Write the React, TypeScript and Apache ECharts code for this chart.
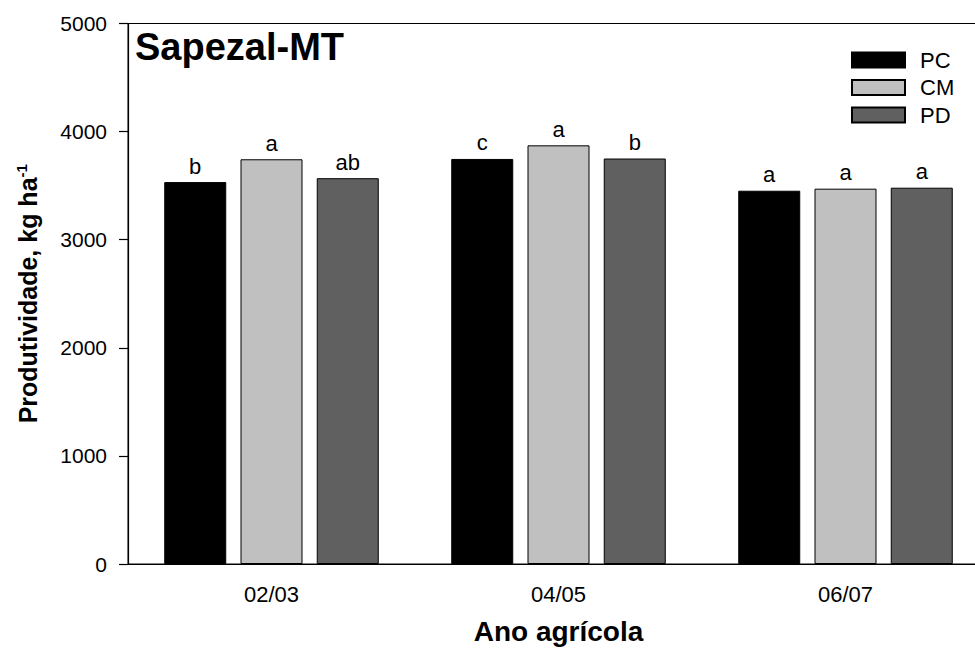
import React, { useEffect, useRef } from "react";
import * as echarts from "echarts";

const categories = ["02/03", "04/05", "06/07"];
const seriesNames = ["PC", "CM", "PD"];
const pcValues = [3533, 3747, 3453];
const cmValues = [3744, 3873, 3472];
const pdValues = [3569, 3751, 3481];
const pcLetters = ["b", "c", "a"];
const cmLetters = ["a", "a", "a"];
const pdLetters = ["ab", "b", "a"];
const yTicks = [0, 1000, 2000, 3000, 4000, 5000];

const FONT = "'Liberation Sans', Arial, Helvetica, sans-serif";
const colors = ["#000000", "#c0c0c0", "#606060"];

export default function App() {
  const ref = useRef<HTMLDivElement>(null);
  useEffect(() => {
    if (!ref.current) return;
    const chart = echarts.init(ref.current, undefined, { renderer: "svg" });
    const values = [pcValues, cmValues, pdValues];
    const letters = [pcLetters, cmLetters, pdLetters];
    chart.setOption({
      animation: false,
      backgroundColor: "#ffffff",
      title: {
        text: "Sapezal-MT",
        left: 135,
        top: 28,
        padding: 0,
        textStyle: { fontFamily: FONT, fontSize: 38, fontWeight: "bold", color: "#000" },
      },
      legend: {
        orient: "vertical",
        left: 851,
        top: 49,
        padding: 0,
        itemWidth: 53,
        itemHeight: 15,
        itemGap: 5.5,
        icon: "rect",
        textStyle: { fontFamily: FONT, fontSize: 22, color: "#000", padding: [0, 0, 0, 10] },
        data: seriesNames,
      },
      grid: {
        left: 128,
        top: 23.5,
        width: 861,
        height: 543.2,
        show: true,
        borderColor: "#000",
        borderWidth: 1,
        backgroundColor: "transparent",
        containLabel: false,
      },
      xAxis: {
        type: "category",
        data: categories,
        boundaryGap: true,
        axisLine: { lineStyle: { color: "#000", width: 1.2 } },
        axisTick: { alignWithLabel: true, length: 7, lineStyle: { color: "#000", width: 1.2 } },
        axisLabel: { fontFamily: FONT, fontSize: 22, color: "#000", margin: 19 },
        name: "Ano agrícola",
        nameLocation: "middle",
        nameGap: 53,
        nameTextStyle: { fontFamily: FONT, fontSize: 28, fontWeight: "bold", color: "#000" },
        splitLine: { show: false },
      },
      yAxis: {
        type: "value",
        min: yTicks[0],
        max: yTicks[yTicks.length - 1],
        interval: 1000,
        axisLine: { show: true, lineStyle: { color: "#000", width: 1.2 } },
        axisTick: { show: true, length: 9, lineStyle: { color: "#000", width: 1.2 } },
        axisLabel: {
          fontFamily: FONT,
          fontSize: 21,
          color: "#000",
          margin: 21,
          formatter: (v: number) => String(v),
        },
        splitLine: { show: false },
        name: "Produtividade, kg ha{sup|-1}",
        nameLocation: "middle",
        nameGap: 87,
        nameTextStyle: {
          fontFamily: FONT,
          fontSize: 25,
          fontWeight: "bold",
          color: "#000",
          rich: {
            sup: { fontFamily: FONT, fontSize: 15, fontWeight: "bold", color: "#000", verticalAlign: "top", padding: [0, 0, 12, 0] },
          },
        },
      },
      series: seriesNames.map((name, i) => ({
        name,
        type: "bar",
        data: values[i],
        barWidth: 62,
        barGap: "23%",
        itemStyle: { color: colors[i], borderColor: "#000", borderWidth: 1 },
        label: {
          show: true,
          position: "top",
          distance: 5,
          fontFamily: FONT,
          fontSize: 22,
          color: "#000",
          formatter: (p: any) => letters[i][p.dataIndex],
        },
      })),
    });
    return () => chart.dispose();
  }, []);
  return (
    <div style={{ position: "fixed", left: 0, top: 0, width: 975, height: 650, overflow: "hidden", background: "#fff" }}>
      <div ref={ref} style={{ width: 1000, height: 650 }} />
    </div>
  );
}
